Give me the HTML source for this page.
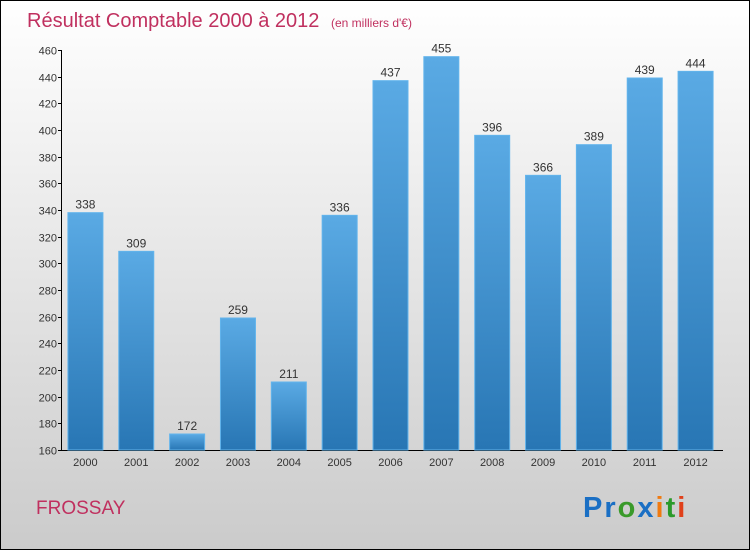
<!DOCTYPE html>
<html><head><meta charset="utf-8"><style>
html,body{margin:0;padding:0;}
body{width:750px;height:550px;overflow:hidden;font-family:"Liberation Sans",sans-serif;}
</style></head><body>
<svg width="750" height="550" xmlns="http://www.w3.org/2000/svg">
<defs>
<linearGradient id="bg" x1="0" y1="0" x2="0" y2="1"><stop offset="0" stop-color="#ffffff"/><stop offset="1" stop-color="#cbcbcb"/></linearGradient>
<linearGradient id="bar" x1="0" y1="0" x2="0" y2="1"><stop offset="0" stop-color="#5aaae4"/><stop offset="1" stop-color="#2876b4"/></linearGradient>
</defs>
<rect x="0.5" y="0.5" width="749" height="549" fill="url(#bg)" stroke="#000"/>
<text x="27" y="27" font-size="20" fill="#c0305f">Résultat Comptable 2000 à 2012 <tspan font-size="12" dx="6">(en milliers d'€)</tspan></text>
<g id="yaxis"></g>
<g id="bars"></g>
<text x="36" y="514" font-size="19" fill="#c0305f">FROSSAY</text>
<text x="583" y="517" font-size="29" font-weight="bold" letter-spacing="2"><tspan fill="#1a6fc4">Pr</tspan><tspan fill="#3a9a2a">o</tspan><tspan fill="#1a6fc4">x</tspan><tspan fill="#f07a10">i</tspan><tspan fill="#2a9a2a">t</tspan><tspan fill="#e0401a">i</tspan></text>
</svg>
<script>
const categories=["2000","2001","2002","2003","2004","2005","2006","2007","2008","2009","2010","2011","2012"];
const values=[338,309,172,259,211,336,437,455,396,366,389,439,444];
const yTicks=[160,180,200,220,240,260,280,300,320,340,360,380,400,420,440,460];
const NS="http://www.w3.org/2000/svg";
const x0=60,x1=721,yMin=160,yMax=460,py0=450,py1=50;
const y=v=>py0-(v-yMin)/(yMax-yMin)*(py0-py1);
const step=(x1-x0)/categories.length;
function mk(t,a,p){const e=document.createElementNS(NS,t);for(const k in a)e.setAttribute(k,a[k]);p.appendChild(e);return e;}
const ya=document.getElementById('yaxis'),bg=document.getElementById('bars');
const al=mk('line',{x1:61.5,y1:50,x2:61.5,y2:450.5,stroke:'#000'},ya);


const xl=mk('line',{x1:61,y1:450.5,x2:723,y2:450.5,stroke:'#000'},ya);


yTicks.forEach(v=>{
 const yy=Math.round(y(v))+0.5;
 const tk=mk('line',{x1:58,y1:yy,x2:62,y2:yy,stroke:'#000'},ya);
 
 
 const t=mk('text',{x:57,y:yy+4,'font-size':11,'text-anchor':'end',fill:'#333'},ya);
 t.textContent=v;
 
 
});
categories.forEach((c,i)=>{
 const cx=x0+step*(i+0.5),w=35,top=y(values[i]);
 const r=mk('rect',{x:cx-w/2,y:top,width:w,height:py0-top,fill:'url(#bar)',stroke:'#62b4ec','stroke-width':1},bg);
 
 
 const vt=mk('text',{x:cx,y:top-4,'font-size':12,'text-anchor':'middle',fill:'#333'},bg);
 vt.textContent=values[i];
 
 
 const xt=mk('text',{x:cx,y:466,'font-size':11,'text-anchor':'middle',fill:'#333'},bg);
 xt.textContent=c;
 
 
});
</script>
</body></html>
